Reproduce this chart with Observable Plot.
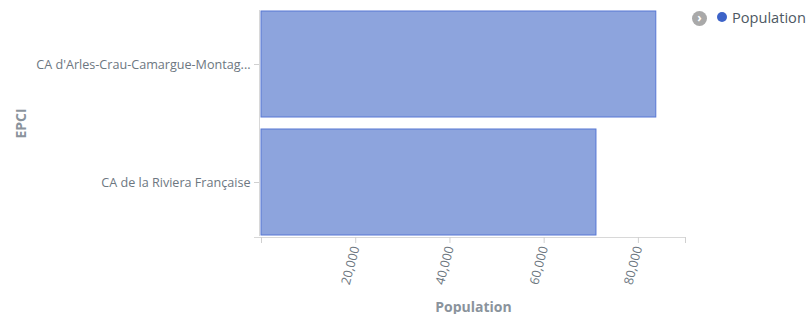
<!DOCTYPE html>
<html>
<head>
<meta charset="utf-8">
<script src="https://cdn.jsdelivr.net/npm/d3@7"></script>
<script src="https://cdn.jsdelivr.net/npm/@observablehq/plot@0.6"></script>
<style>
  html, body { margin: 0; padding: 0; background: #fff; }
  #wrap { position: relative; width: 806px; height: 314px; font-family: "Open Sans", sans-serif; }
  g[aria-label="y-axis label"] text, g[aria-label="x-axis label"] text { font-weight: bold; fill: #8a939c; font-size: 14px; }
  #legend { position: absolute; left: 692px; top: 7px; display: flex; align-items: center; font-size: 14.6px; color: #4d5863; }
  #legend .btn { width: 15px; height: 15px; border-radius: 50%; background: #a9a9a9; color: #fff; font-size: 12px; line-height: 14px; text-align: center; font-weight: bold; margin-right: 10px; margin-top: 3px; }
  #legend .dot { width: 10px; height: 10px; border-radius: 50%; background: #3d63c8; margin-right: 5px; }
</style>
</head>
<body>
<div id="wrap"></div>
<script>
const categories = ["CA d'Arles-Crau-Camargue-Montagnette", "CA de la Riviera Française"];
const population = [83800, 71100];
const xTicks = [0, 20000, 40000, 60000, 80000, 90000];
const xTickLabels = [20000, 40000, 60000, 80000];
const seriesName = "Population";

const data = categories.map((c, i) => ({ epci: c, value: population[i] }));
const trunc = s => s.length > 31 ? s.slice(0, 31) + "..." : s;

const chart = Plot.plot({
  width: 806,
  height: 314,
  marginLeft: 261,
  marginRight: 121,
  marginTop: 10,
  marginBottom: 78,
  style: { fontFamily: "Open Sans, sans-serif", fontSize: "12.6px", color: "#6d7781", background: "#fff" },
  x: { domain: [0, 90000] },
  y: { domain: categories, paddingInner: 0.1, paddingOuter: 0 },
  marks: [
    Plot.ruleX([0], { stroke: "#d8d8d8", dx: -2 }),
    Plot.frame({ anchor: "bottom", stroke: "#d8d8d8", insetLeft: -7, dy: 1 }),
    Plot.barX(data, { x: "value", y: "epci", fill: "#8da4dd", stroke: "#5677d4", strokeWidth: 1 }),
    Plot.axisY({ tickSize: 5, tickPadding: 4, tickFormat: trunc, stroke: "#d0d0d0", label: "EPCI", labelAnchor: "center", labelOffset: 245, labelArrow: "none", dx: -2 }),
    Plot.axisX({ ticks: xTicks, tickSize: 6, tickFormat: () => "", stroke: "#d0d0d0", label: null, dy: 1 }),
    Plot.axisX({ ticks: xTickLabels, tickSize: 0, tickPadding: 10, tickRotate: -75, tickFormat: d3.format(","), label: "Population", labelAnchor: "center", labelOffset: 75, labelArrow: "none" })
  ]
});
document.getElementById("wrap").appendChild(chart);
const lg = document.createElement("div");
lg.id = "legend";
lg.innerHTML = `<div class="btn">›</div><div class="dot"></div><div>${seriesName}</div>`;
document.getElementById("wrap").appendChild(lg);
</script>
</body>
</html>
